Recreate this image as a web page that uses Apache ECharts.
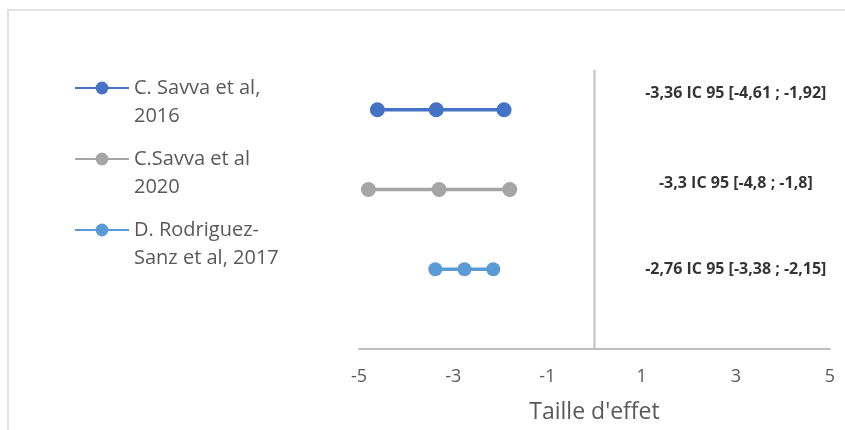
<!DOCTYPE html>
<html>
<head>
<meta charset="utf-8">
<script src="https://cdn.jsdelivr.net/npm/echarts@6/dist/echarts.min.js"></script>
<style>
  html, body { margin: 0; padding: 0; background: #fff; }
  #chart { width: 845px; height: 430px; }
</style>
</head>
<body>
<div id="chart"></div>
<script>
// études (effet moyen + IC 95), une ligne par étude
var studyNames = ['C. Savva et al,\n2016', 'C.Savva et al\n2020', 'D. Rodriguez-\nSanz et al, 2017'];
var studyRows = [3, 2, 1];
var ciLow = [-4.61, -4.8, -3.38];
var effect = [-3.36, -3.3, -2.76];
var ciHigh = [-1.92, -1.8, -2.15];
var studyColors = ['#4472C4', '#A5A5A5', '#5B9BD5'];

// textes à droite
var ciLabels = ['-3,36 IC 95 [-4,61 ; -1,92]', '-3,3 IC 95 [-4,8 ; -1,8]', '-2,76 IC 95 [-3,38 ; -2,15]'];
var labelX = [3, 3, 3];
var labelY = [3.2, 2.08, 1];

// ligne verticale d'effet nul
var zeroLine = [[0, 0], [0, 3.5]];
var xTicks = [-5, -3, -1, 1, 3, 5];

var chart = echarts.init(document.getElementById('chart'));

var series = [];
for (var i = 0; i < studyNames.length; i++) {
    series.push({
        name: studyNames[i],
        type: 'line',
        data: [[ciLow[i], studyRows[i]], [effect[i], studyRows[i]], [ciHigh[i], studyRows[i]]],
        symbol: 'circle',
        symbolSize: i == 2 ? 14 : 15,
        lineStyle: { color: studyColors[i], width: 3.5 },
        itemStyle: { color: studyColors[i] },
        z: 3
    });
}
series.push({
    name: 'zero',
    type: 'line',
    data: zeroLine,
    symbol: 'none',
    lineStyle: { color: '#BFBFBF', width: 2 },
    silent: true,
    z: 1
});
series.push({
    name: 'labels',
    type: 'scatter',
    data: labelX.map(function (x, k) { return [x, labelY[k]]; }),
    symbolSize: 0,
    label: {
        show: true,
        position: 'inside',
        formatter: function (p) { return ciLabels[p.dataIndex]; },
        color: '#000',
        fontWeight: 'bold',
        fontSize: 16,
        fontFamily: 'Open Sans'
    },
    silent: true
});

var option = {
    animation: false,
    graphic: [{
        type: 'rect',
        shape: { x: 8, y: 10, width: 1000, height: 600 },
        style: { fill: 'none', stroke: '#D9D9D9', lineWidth: 1.5 },
        silent: true
    }],
    grid: { left: 359, right: 15, top: 30, bottom: 81 },
    legend: {
        data: studyNames,
        orient: 'vertical',
        left: 69,
        top: 41,
        itemGap: -13,
        itemWidth: 54,
        itemHeight: 16,
        // ligne vide devant : la 1re ligne du texte reste au niveau du symbole
        formatter: function (name) { return '\n' + name; },
        textStyle: {
            color: '#595959',
            fontSize: 20,
            fontFamily: 'Open Sans',
            lineHeight: 28
        }
    },
    xAxis: {
        type: 'value',
        min: -5,
        max: 5,
        interval: 2,
        name: "Taille d'effet",
        nameLocation: 'middle',
        nameGap: 52,
        nameTextStyle: { color: '#595959', fontSize: 23, fontFamily: 'Open Sans' },
        axisLine: { show: true, onZero: false, lineStyle: { color: '#BFBFBF', width: 2 } },
        axisTick: { show: false },
        splitLine: { show: false },
        axisLabel: {
            color: '#595959',
            fontSize: 18,
            fontFamily: 'Open Sans',
            margin: 19,
            formatter: function (v) { return xTicks.indexOf(v) >= 0 ? String(v) : ''; }
        }
    },
    yAxis: {
        type: 'value',
        min: 0,
        max: 4,
        show: false
    },
    series: series
};
chart.setOption(option);
</script>
</body>
</html>
